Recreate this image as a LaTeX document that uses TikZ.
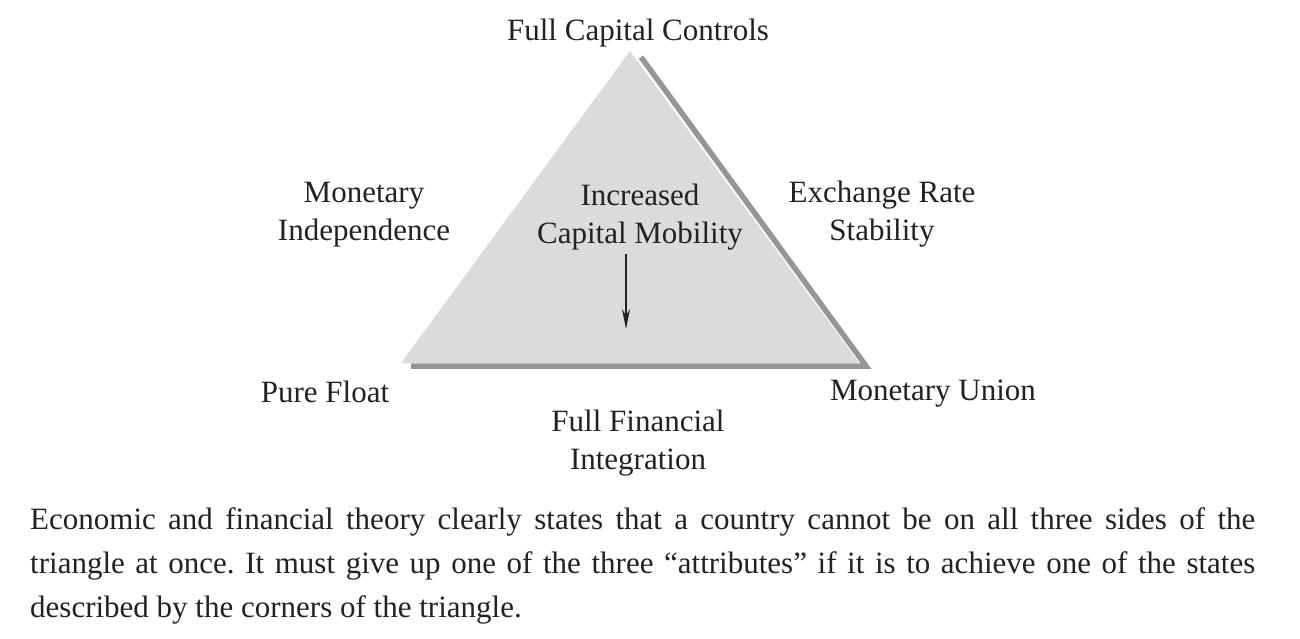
\documentclass[tikz,border=0pt]{standalone}
\usepackage{fontspec}
\setmainfont{Liberation Serif}
\usetikzlibrary{arrows.meta}
\definecolor{trifill}{RGB}{218,219,221}
\definecolor{shadowgray}{RGB}{150,150,150}
\definecolor{inkc}{RGB}{34,34,34}
\tikzset{
  lbl/.style={text=inkc, align=center, inner sep=0pt, font=\fontsize{31}{38}\selectfont},
  body/.style={text=inkc, inner sep=0pt, text width=1225pt, align=justify, anchor=north west, font=\fontsize{31}{44}\selectfont\frenchspacing},
  shadowline/.style={draw=shadowgray, line width=5.5pt, line join=miter},
  arrowline/.style={draw=inkc, line width=2.2pt, -{Stealth[length=20pt,width=8pt]}}
}
\begin{document}
\begin{tikzpicture}[x=1pt,y=-1pt]
\useasboundingbox (0,0) rectangle (1300,638);
% shadow
\coordinate (sA) at (641,57);
\coordinate (sC) at (866,366);
\coordinate (sB) at (411,366);
\draw[shadowline] (sA) -- (sC) -- (sB);
% triangle
\coordinate (tA) at (630,51);
\coordinate (tB) at (401,363);
\coordinate (tC) at (859,363);
\fill[trifill] (tA) -- (tB) -- (tC) -- cycle;
% labels
\node[lbl] (fcc) at (638,33) {Full Capital Controls};
\node[lbl] (mi) at (364,215) {Monetary\\Independence};
\node[lbl] (icm) at (640,217) {Increased\\Capital Mobility};
\node[lbl] (ers) at (882,214) {Exchange Rate\\Stability};
\node[lbl] (pf) at (325,392) {Pure Float};
\node[lbl] (mu) at (933,394) {Monetary Union};
\node[lbl] (ffi) at (638,443) {Full Financial\\Integration};
% arrow
\coordinate (arrS) at (626,254);
\coordinate (arrE) at (626,329);
\draw[arrowline] (arrS) -- (arrE);
% body
\node[body] (txt) at (30,507) {Economic and financial theory clearly states that a country cannot be on all three sides of the\linebreak triangle at once. It must give up one of the three \textquotedblleft attributes\textquotedblright\ if it is to achieve one of the states\linebreak described by the corners of the triangle.};
\end{tikzpicture}
\end{document}
